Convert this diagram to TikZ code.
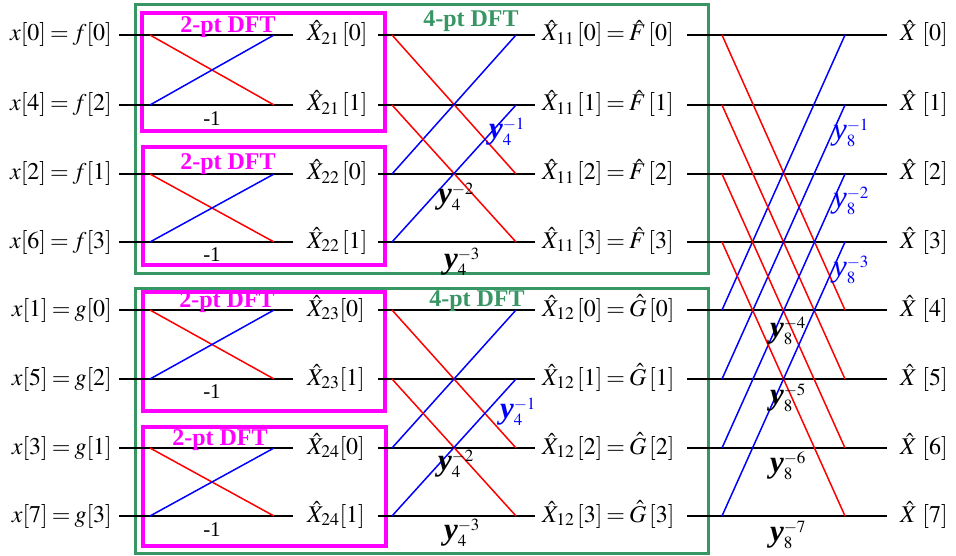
\documentclass[tikz,border=0pt]{standalone}
\usepackage{mathptmx}
\usepackage{fontspec}
\setmainfont{Liberation Serif}
\definecolor{dftgreen}{RGB}{56,150,100}
\definecolor{dftmag}{RGB}{255,0,255}
\newcommand\twid[2]{$\mbox{\fontsize{31}{34}\selectfont\bfseries\itshape y}_{#1}^{#2}$}
\newcommand\twil[2]{$\mbox{\fontsize{31}{34}\selectfont\itshape y}_{#1}^{#2}$}
\newcommand\eqs{\mskip-1mu=\mskip-1mu}
\begin{document}
\begin{tikzpicture}[x=1pt,y=-1pt,
  wire/.style={line width=2pt,black},
  redw/.style={line width=1.5pt,red},
  bluew/.style={line width=1.5pt,blue},
  lbl/.style={inner sep=0pt,font=\fontsize{24}{28}\selectfont},
  gbox/.style={draw=dftgreen,line width=3pt},
  mbox/.style={draw=dftmag,line width=3.5pt},
  mtitle/.style={inner sep=0pt,text=dftmag,font=\fontsize{24}{28}\selectfont\bfseries},
  gtitle/.style={inner sep=0pt,text=dftgreen,font=\fontsize{24}{28}\selectfont\bfseries},
  tw/.style={inner sep=0pt,font=\fontsize{23}{26}\selectfont},
  twb/.style={tw,text=blue},
  neg/.style={inner sep=0pt,font=\fontsize{21}{24}\selectfont}
]
\useasboundingbox (0,0) rectangle (956,556);
% row coordinates
\foreach \i/\y in {0/35,1/105,2/174,3/242,4/310,5/379,6/448,7/516}{
  \coordinate (a\i) at (119,\y);
  \coordinate (b\i) at (150,\y);
  \coordinate (c\i) at (274,\y);
  \coordinate (d\i) at (293,\y);
  \coordinate (e\i) at (378,\y);
  \coordinate (f\i) at (392,\y);
  \coordinate (g\i) at (516,\y);
  \coordinate (h\i) at (535,\y);
  \coordinate (k\i) at (687,\y);
  \coordinate (p\i) at (722,\y);
  \coordinate (q\i) at (845,\y);
  \coordinate (r\i) at (887,\y);
}
% boxes
\draw[gbox] (135,5) rectangle (708,273);
\draw[gbox] (135,288) rectangle (708,553);
\draw[mbox] (142,13) rectangle (385,131);
\draw[mbox] (143,147) rectangle (385,265);
\draw[mbox] (143,292) rectangle (385,411);
\draw[mbox] (143,427) rectangle (386,546);
% input labels
\node[lbl,anchor=base east] (in0) at (112,41) {$x[0] \eqs f[0]$};
\node[lbl,anchor=base east] (in1) at (112,111) {$x[4] \eqs f[2]$};
\node[lbl,anchor=base east] (in2) at (112,180) {$x[2] \eqs f[1]$};
\node[lbl,anchor=base east] (in3) at (112,248) {$x[6] \eqs f[3]$};
\node[lbl,anchor=base east] (in4) at (112,316) {$x[1] \eqs g[0]$};
\node[lbl,anchor=base east] (in5) at (112,385) {$x[5] \eqs g[2]$};
\node[lbl,anchor=base east] (in6) at (112,454) {$x[3] \eqs g[1]$};
\node[lbl,anchor=base east] (in7) at (112,522) {$x[7] \eqs g[3]$};
% stage-1 outputs
\node[lbl,anchor=base west] (m0) at (307,41) {$\hat{X}_{21}\,[0]$};
\node[lbl,anchor=base west] (m1) at (307,111) {$\hat{X}_{21}\,[1]$};
\node[lbl,anchor=base west] (m2) at (307,180) {$\hat{X}_{22}\,[0]$};
\node[lbl,anchor=base west] (m3) at (307,248) {$\hat{X}_{22}\,[1]$};
\node[lbl,anchor=base west] (m4) at (307,316) {$\hat{X}_{23}[0]$};
\node[lbl,anchor=base west] (m5) at (307,385) {$\hat{X}_{23}[1]$};
\node[lbl,anchor=base west] (m6) at (307,454) {$\hat{X}_{24}[0]$};
\node[lbl,anchor=base west] (m7) at (307,522) {$\hat{X}_{24}[1]$};
% stage-2 outputs
\node[lbl,anchor=base west] (n0) at (542,41) {$\hat{X}_{11}\,[0] \eqs \hat{F}\,[0]$};
\node[lbl,anchor=base west] (n1) at (542,111) {$\hat{X}_{11}\,[1] \eqs \hat{F}\,[1]$};
\node[lbl,anchor=base west] (n2) at (542,180) {$\hat{X}_{11}\,[2] \eqs \hat{F}\,[2]$};
\node[lbl,anchor=base west] (n3) at (542,248) {$\hat{X}_{11}\,[3] \eqs \hat{F}\,[3]$};
\node[lbl,anchor=base west] (n4) at (542,316) {$\hat{X}_{12}\,[0] \eqs \hat{G}\,[0]$};
\node[lbl,anchor=base west] (n5) at (542,385) {$\hat{X}_{12}\,[1] \eqs \hat{G}\,[1]$};
\node[lbl,anchor=base west] (n6) at (542,454) {$\hat{X}_{12}\,[2] \eqs \hat{G}\,[2]$};
\node[lbl,anchor=base west] (n7) at (542,522) {$\hat{X}_{12}\,[3] \eqs \hat{G}\,[3]$};
% outputs
\foreach \i/\y in {0/41,1/111,2/180,3/248,4/316,5/385,6/454,7/522}{
  \node[lbl,anchor=base west] (o\i) at (900,\y) {$\hat{X}\;[\i]$};
}
% horizontal wires
\foreach \i in {0,...,7}{
  \draw[wire] (a\i) -- (d\i);
  \draw[wire] (e\i) -- (h\i);
  \draw[wire] (k\i) -- (r\i);
}
% stage 1 butterflies
\foreach \u/\l in {0/1,2/3,4/5,6/7}{
  \draw[redw] (b\u) -- (c\l);
  \draw[bluew] (b\l) -- (c\u);
}
% stage 2 butterflies
\foreach \u/\l in {0/2,1/3,4/6,5/7}{
  \draw[redw] (f\u) -- (g\l);
  \draw[bluew] (f\l) -- (g\u);
}
% stage 3 butterflies
\foreach \u/\l in {0/4,1/5,2/6,3/7}{
  \draw[redw] (p\u) -- (q\l);
  \draw[bluew] (p\l) -- (q\u);
}
% titles
\node[mtitle,anchor=base] (t1) at (228,33) {2-pt DFT};
\node[mtitle,anchor=base] (t2) at (228,170) {2-pt DFT};
\node[mtitle,anchor=base] (t3) at (227,307) {2-pt DFT};
\node[mtitle,anchor=base] (t4) at (220,445) {2-pt DFT};
\node[gtitle,anchor=base] (g1) at (471,27) {4-pt DFT};
\node[gtitle,anchor=base] (g2) at (477,306) {4-pt DFT};
% -1 labels
\node[neg] (n1a) at (212,119) {-1};
\node[neg] (n1b) at (212,255) {-1};
\node[neg] (n1c) at (212,392) {-1};
\node[neg] (n1d) at (212,530) {-1};
% twiddles stage 2
\node[twb] (w41a) at (507,132) {\twid{4}{-1}};
\node[tw]  (w42a) at (456,197) {\twid{4}{-2}};
\node[tw]  (w43a) at (462,262) {\twid{4}{-3}};
\node[twb] (w41b) at (518,412) {\twid{4}{-1}};
\node[tw]  (w42b) at (456,464) {\twid{4}{-2}};
\node[tw]  (w43b) at (462,533) {\twid{4}{-3}};
% twiddles stage 3
\node[twb] (w81) at (851,133) {\twil{8}{-1}};
\node[twb] (w82) at (851,201) {\twil{8}{-2}};
\node[twb] (w83) at (851,270) {\twil{8}{-3}};
\node[tw]  (w84) at (788,331) {\twid{8}{-4}};
\node[tw]  (w85) at (788,398) {\twid{8}{-5}};
\node[tw]  (w86) at (788,466) {\twid{8}{-6}};
\node[tw]  (w87) at (788,535) {\twid{8}{-7}};
\end{tikzpicture}
\end{document}
